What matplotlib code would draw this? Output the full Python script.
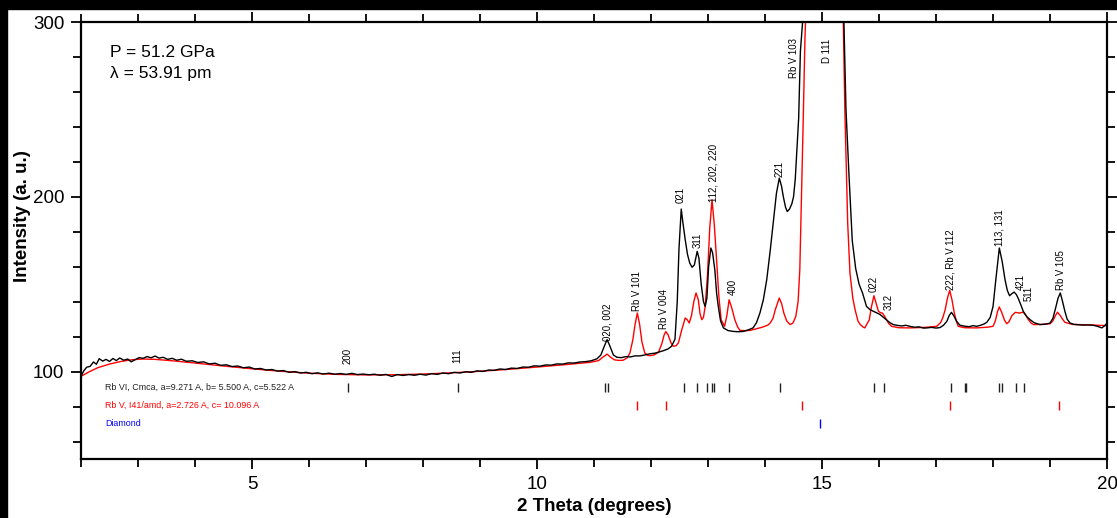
import matplotlib
matplotlib.use("Agg")
import matplotlib.pyplot as plt
from matplotlib.patches import Rectangle
from matplotlib.ticker import MultipleLocator

plt.rcParams['font.family'] = ['Liberation Sans', 'DejaVu Sans']

# observed pattern (black)
obs_tth = [2.00, 2.05, 2.10, 2.16, 2.22, 2.27, 2.32, 2.38, 2.44, 2.50, 2.56, 2.62, 2.68, 2.75, 2.82,
           2.88, 2.95, 3.02, 3.09, 3.16, 3.23, 3.30, 3.37, 3.44, 3.52, 3.60, 3.68, 3.76, 3.85, 3.95,
           4.05, 4.15, 4.25, 4.35, 4.45, 4.55, 4.65, 4.75, 4.85, 4.95, 5.05, 5.15, 5.25, 5.35, 5.45,
           5.55, 5.65, 5.75, 5.85, 5.95, 6.05, 6.15, 6.25, 6.35, 6.45, 6.55, 6.65, 6.75, 6.85, 6.95,
           7.05, 7.15, 7.25, 7.35, 7.45, 7.55, 7.65, 7.75, 7.85, 7.95, 8.05, 8.15, 8.25, 8.35, 8.45,
           8.55, 8.65, 8.75, 8.85, 8.95, 9.05, 9.15, 9.25, 9.35, 9.45, 9.55, 9.65, 9.75, 9.85, 9.95,
           10.05, 10.15, 10.25, 10.35, 10.45, 10.55, 10.65, 10.75, 10.85, 10.95, 11.05, 11.12, 11.18,
           11.23, 11.28, 11.34, 11.40, 11.48, 11.56, 11.64, 11.72, 11.81, 11.90, 11.98, 12.06, 12.14,
           12.22, 12.30, 12.36, 12.42, 12.46, 12.49, 12.53, 12.56, 12.60, 12.64, 12.68, 12.72, 12.76,
           12.81, 12.84, 12.88, 12.92, 12.95, 12.98, 13.01, 13.05, 13.08, 13.12, 13.15, 13.18, 13.22,
           13.27, 13.35, 13.44, 13.53, 13.62, 13.70, 13.79, 13.85, 13.91, 13.97, 14.03, 14.09, 14.15,
           14.20, 14.25, 14.29, 14.32, 14.36, 14.39, 14.43, 14.47, 14.50, 14.53, 14.56, 14.59, 14.62,
           14.67, 14.75, 15.00, 15.25, 15.38, 15.42, 15.47, 15.53, 15.59, 15.65, 15.71, 15.78, 15.84,
           15.90, 15.96, 16.02, 16.08, 16.13, 16.19, 16.25, 16.33, 16.40, 16.47, 16.54, 16.62, 16.70,
           16.78, 16.84, 16.92, 17.00, 17.07, 17.13, 17.19, 17.23, 17.27, 17.31, 17.36, 17.42, 17.50,
           17.58, 17.65, 17.71, 17.78, 17.84, 17.89, 17.95, 18.00, 18.05, 18.11, 18.16, 18.21, 18.25,
           18.29, 18.33, 18.37, 18.41, 18.44, 18.49, 18.53, 18.59, 18.65, 18.72, 18.82, 18.90, 18.96,
           19.00, 19.05, 19.09, 19.14, 19.18, 19.22, 19.26, 19.30, 19.35, 19.42, 19.50, 19.58, 19.66,
           19.76, 19.84, 19.91, 19.96, 20.00]
obs_int = [97.3, 100.5, 102.5, 103.0, 105.5, 104.2, 107.4, 106.0, 107.0, 105.8, 107.5, 106.3, 107.8,
           106.5, 107.2, 105.6, 106.8, 108.0, 107.6, 108.6, 107.9, 108.9, 107.7, 108.2, 107.0, 107.6,
           106.5, 107.1, 105.9, 106.2, 105.2, 105.6, 104.4, 104.8, 103.6, 103.9, 102.9, 103.2, 102.2,
           102.6, 101.5, 101.8, 100.9, 101.2, 100.3, 100.6, 99.6, 100.0, 99.2, 99.6, 98.8, 99.3, 98.6,
           99.1, 98.5, 98.9, 98.4, 99.0, 98.3, 98.6, 98.2, 98.5, 97.9, 98.4, 97.2, 98.3, 97.8, 98.3,
           97.9, 98.5, 98.0, 98.8, 98.4, 99.2, 98.8, 99.6, 99.2, 99.9, 99.6, 100.4, 100.1, 100.9,
           100.7, 101.5, 101.2, 102.0, 101.8, 102.6, 102.5, 103.3, 103.1, 103.8, 103.7, 104.4, 104.3,
           105.0, 104.9, 105.5, 105.7, 106.2, 107.3, 109.5, 114.5, 118.3, 114.5, 109.5, 108.2, 108.0,
           108.6, 108.4, 109.0, 109.0, 109.6, 110.2, 110.5, 111.2, 112.0, 113.0, 114.5, 118.5, 140.0,
           170.0, 193.0, 185.0, 175.4, 167.0, 162.0, 159.7, 161.0, 168.8, 165.0, 150.0, 140.0, 137.3,
           142.0, 160.0, 170.7, 168.0, 158.0, 145.0, 137.3, 129.0, 125.0, 123.5, 123.0, 122.8, 123.0,
           123.8, 125.0, 128.0, 133.5, 141.0, 152.6, 169.0, 186.9, 202.0, 210.7, 206.0, 200.2, 194.0,
           191.6, 193.0, 196.0, 200.0, 210.0, 228.0, 245.0, 283.0, 305.0, 380.0, 450.0, 380.0, 305.0,
           250.0, 214.3, 175.0, 159.0, 150.0, 145.0, 137.3, 135.5, 134.5, 133.6, 132.6, 131.0, 129.7,
           128.0, 126.9, 126.4, 126.1, 126.5, 125.9, 125.4, 125.6, 124.9, 125.0, 125.3, 124.9, 125.2,
           126.5, 128.8, 132.0, 133.9, 132.0, 128.8, 126.5, 126.0, 125.7, 126.3, 125.9, 126.5, 127.2,
           128.2, 131.0, 137.3, 153.0, 170.7, 163.0, 152.6, 146.5, 143.4, 144.6, 145.5, 144.0, 142.0,
           138.0, 134.5, 131.5, 129.7, 128.0, 126.9, 127.1, 127.4, 127.8, 130.5, 135.4, 142.0, 145.0,
           140.0, 134.5, 130.0, 127.8, 127.0, 126.8, 126.6, 126.7, 126.5, 125.8, 125.0, 126.3, 127.8]

# calculated pattern (red)
calc_tth = [2.00, 2.15, 2.30, 2.50, 2.70, 2.90, 3.09, 3.30, 3.60, 4.00, 4.50, 5.00, 5.50, 6.00, 6.50,
            7.00, 7.50, 8.00, 8.50, 9.00, 9.50, 10.00, 10.50, 10.93, 11.08, 11.16, 11.23, 11.30, 11.36,
            11.44, 11.51, 11.58, 11.63, 11.68, 11.72, 11.76, 11.80, 11.84, 11.89, 11.94, 11.98, 12.05,
            12.13, 12.19, 12.23, 12.26, 12.30, 12.35, 12.39, 12.44, 12.48, 12.54, 12.60, 12.64, 12.67,
            12.71, 12.75, 12.79, 12.83, 12.86, 12.89, 12.92, 12.95, 12.99, 13.03, 13.07, 13.11, 13.15,
            13.19, 13.23, 13.29, 13.33, 13.37, 13.42, 13.47, 13.52, 13.56, 13.65, 13.74, 13.85, 13.95,
            14.05, 14.09, 14.14, 14.18, 14.25, 14.29, 14.33, 14.38, 14.44, 14.49, 14.54, 14.58, 14.61,
            14.64, 14.67, 14.70, 14.72, 14.85, 15.05, 15.30, 15.37, 15.40, 15.45, 15.49, 15.54, 15.58,
            15.63, 15.67, 15.72, 15.75, 15.80, 15.83, 15.86, 15.91, 15.95, 15.99, 16.03, 16.06, 16.10,
            16.13, 16.17, 16.22, 16.35, 16.54, 16.80, 17.01, 17.08, 17.12, 17.16, 17.20, 17.24, 17.28,
            17.32, 17.36, 17.39, 17.50, 17.71, 17.90, 18.00, 18.04, 18.08, 18.11, 18.15, 18.20, 18.24,
            18.28, 18.33, 18.39, 18.46, 18.53, 18.58, 18.62, 18.67, 18.71, 18.85, 19.00, 19.05, 19.09,
            19.13, 19.18, 19.22, 19.26, 19.39, 19.70, 20.00]
calc_int = [97.3, 100.0, 102.3, 104.3, 105.8, 106.8, 107.2, 107.0, 106.2, 104.9, 103.2, 101.6, 100.2,
            99.1, 98.4, 98.1, 98.2, 98.6, 99.3, 100.2, 101.3, 102.6, 104.0, 105.3, 106.3, 108.4, 110.0,
            108.0, 106.7, 106.4, 106.5, 107.8, 110.7, 118.0, 127.0, 133.5, 127.0, 117.0, 110.7, 109.3,
            109.1, 109.5, 111.0, 116.0, 121.0, 122.9, 121.0, 116.5, 114.5, 114.8, 116.4, 124.0, 130.7,
            129.5, 127.8, 132.0, 140.0, 145.0, 141.0, 133.0, 129.7, 131.0, 137.3, 155.0, 182.0, 198.3,
            184.0, 164.0, 143.0, 129.7, 125.9, 132.0, 141.1, 136.0, 129.7, 125.5, 123.6, 123.4, 123.6,
            124.5, 125.4, 126.6, 127.8, 130.5, 135.4, 142.1, 139.0, 133.5, 129.0, 126.9, 127.8, 131.6,
            140.0, 158.3, 200.0, 244.0, 290.0, 310.0, 700.0, 900.0, 600.0, 305.0, 250.0, 185.0, 156.4,
            142.0, 135.4, 129.0, 126.9, 125.5, 125.0, 128.0, 129.7, 136.0, 143.4, 139.0, 134.5, 133.6,
            133.5, 131.5, 129.7, 127.5, 125.9, 125.1, 125.0, 125.3, 125.9, 128.0, 131.0, 135.4, 142.0,
            146.5, 141.0, 133.5, 128.5, 125.9, 125.1, 125.0, 125.4, 125.9, 129.0, 134.5, 137.0, 134.0,
            129.5, 127.4, 128.5, 132.0, 133.9, 133.5, 134.0, 132.0, 129.7, 127.7, 126.9, 127.0, 127.4,
            129.0, 131.8, 134.0, 132.0, 130.0, 128.2, 127.0, 126.7, 126.3]

# reflection positions
rb6_ticks = [6.68, 8.61, 11.20, 11.24, 12.58, 12.80, 12.99, 13.07, 13.10, 13.37, 14.26, 15.92, 16.09,
             17.27, 17.50, 17.53, 18.11, 18.16, 18.40, 18.55]
rb5_ticks = [11.76, 12.27, 14.65, 17.24, 19.15]
dia_ticks = [14.96]

# peak labels: text, 2theta, bottom of text (intensity)
peak_text = ["200", "111", "020, 002", "Rb V 101", "Rb V 004", "021", "311", "112, 202, 220", "400",
             "221", "Rb V 103", "D 111", "022", "312", "222, Rb V 112", "113, 131", "421", "511",
             "Rb V 105"]
peak_tth = [6.68, 8.60, 11.23, 11.76, 12.23, 12.52, 12.81, 13.09, 13.43, 14.25, 14.51, 15.08, 15.91,
            16.16, 17.25, 18.11, 18.48, 18.63, 19.19]
peak_y = [104.6, 105.1, 117.7, 134.9, 124.6, 196.6, 170.9, 197.1, 144.0, 211.4, 267.7, 276.6, 145.7,
          135.4, 146.9, 172.0, 146.9, 140.6, 146.9]

fig = plt.figure(figsize=(11.17, 5.18), dpi=100)
fig.patch.set_facecolor('white')
ax = fig.add_axes([0.0725, 0.1139, 0.9186, 0.8436])

ax.plot(calc_tth, calc_int, color='red', lw=1.0)
ax.plot(obs_tth, obs_int, color='black', lw=1.0)

ax.vlines(rb6_ticks, 88.6, 93.2, color='#222222', lw=1.0)
ax.vlines(rb5_ticks, 78.3, 82.9, color='red', lw=1.0)
ax.vlines(dia_ticks, 68.0, 72.6, color='blue', lw=1.0)

ax.text(2.42, 90.9, "Rb VI, Cmca, a=9.271 A, b= 5.500 A, c=5.522 A", color='#222222',
        fontsize=6.4, va='center', ha='left')
ax.text(2.42, 80.6, "Rb V, I41/amd, a=2.726 A, c= 10.096 A", color='red',
        fontsize=6.4, va='center', ha='left')
ax.text(2.42, 70.3, "Diamond", color='blue', fontsize=6.4, va='center', ha='left')

for t, x, y in zip(peak_text, peak_tth, peak_y):
    ax.text(x, y, t, rotation=90, ha='center', va='bottom', fontsize=6.9)

ax.text(2.51, 282.3, "P = 51.2 GPa", fontsize=12.5, va='center', ha='left')
ax.text(2.51, 270.3, "\u03bb = 53.91 pm", fontsize=12.5, va='center', ha='left')

ax.set_xlim(2, 20)
ax.set_ylim(50, 300)
ax.xaxis.set_major_locator(MultipleLocator(5))
ax.xaxis.set_minor_locator(MultipleLocator(1))
ax.yaxis.set_major_locator(MultipleLocator(100))
ax.yaxis.set_minor_locator(MultipleLocator(20))
ax.tick_params(which='both', direction='out', top=True, right=True, width=1.3,
               labelsize=13.5, pad=5)
ax.tick_params(which='major', length=7)
ax.tick_params(which='minor', length=5.5)
for s in ax.spines.values():
    s.set_linewidth(1.6)

ax.set_xlabel("2 Theta (degrees)", fontsize=13.5, fontweight='bold', labelpad=4)
ax.set_ylabel("Intensity (a. u.)", fontsize=13.5, fontweight='bold')
ax.yaxis.set_label_coords(-0.049, 0.555)

# black frame bands at top and left of the screenshot
fig.patches.append(Rectangle((0, 1 - 9 / 518), 1, 9 / 518, transform=fig.transFigure,
                             color='black', zorder=10))
fig.patches.append(Rectangle((0, 0), 7 / 1117, 1, transform=fig.transFigure,
                             color='black', zorder=10))

fig.savefig("out.png", dpi=100)
